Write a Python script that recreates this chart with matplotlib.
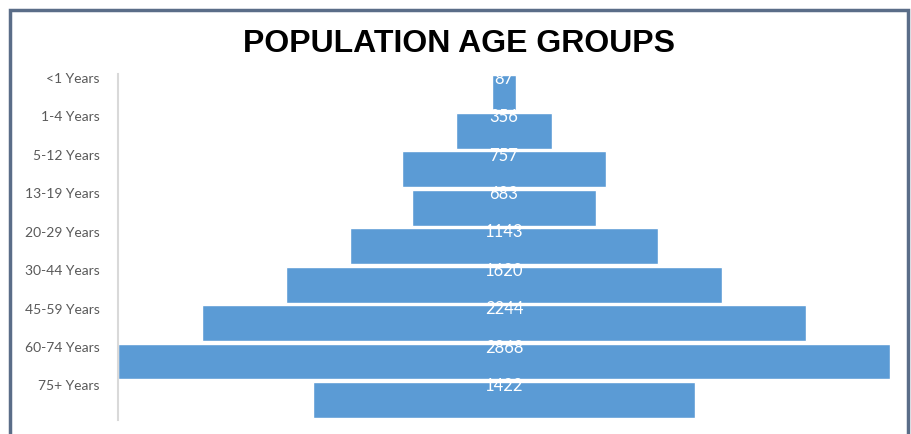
import numpy as np
import matplotlib
matplotlib.use("Agg")
import matplotlib.pyplot as plt
from matplotlib.patches import Rectangle

# data
age_groups = ["<1 Years", "1-4 Years", "5-12 Years", "13-19 Years", "20-29 Years",
              "30-44 Years", "45-59 Years", "60-74 Years", "75+ Years"]
population = [87, 356, 757, 683, 1143, 1620, 2244, 2868, 1422]

W, H = 911, 434
fig = plt.figure(figsize=(W / 100, H / 100), dpi=100)
fig.patch.set_facecolor("white")

# outer frame (bottom edge runs off the picture)
fig.patches.append(Rectangle((10 / W, -0.1), 898 / W, 1.1 - 10 / H,
                             transform=fig.transFigure, fill=False,
                             edgecolor="#5a6d88", linewidth=2.5))

ax = fig.add_axes([118 / W, 1 - 420 / H, (890 - 118) / W, (420 - 74) / H])

y = np.arange(len(population))
vals = np.array(population)
ax.barh(y, vals, left=-vals / 2, height=0.93, color="#5b9bd5",
        edgecolor="white", linewidth=1)

vmax = vals.max()
ax.set_xlim(-vmax / 2, vmax / 2)
ax.set_ylim(8.52, -0.48)

# category labels sit above bar centres (Excel funnel style)
ax.set_yticks(y - 0.38)
ax.set_yticklabels(age_groups, fontsize=10, color="#595959", family="Lato")
ax.tick_params(axis="y", length=0, pad=13)
ax.set_xticks([])

for i, v in enumerate(population):
    ax.text(0, i - 0.36, str(v), ha="center", va="center", color="white",
            fontsize=12, family="Lato", clip_on=True)

for s in ["top", "right", "bottom"]:
    ax.spines[s].set_visible(False)
ax.spines["left"].set_color("#d9d9d9")
ax.spines["left"].set_linewidth(1.5)

fig.text(459 / W, 1 - 44 / H, "POPULATION AGE GROUPS", ha="center", va="center",
         fontsize=23, fontweight="bold", family="Liberation Sans", color="black")

fig.savefig("out.png", dpi=100)
